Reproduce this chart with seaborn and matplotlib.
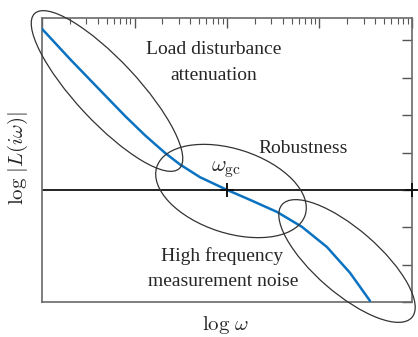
import numpy as np
import matplotlib
matplotlib.use("Agg")
import matplotlib.pyplot as plt
import seaborn as sns
from matplotlib.patches import Ellipse
from matplotlib.transforms import IdentityTransform

# ---- data ----
log_omega = [0.000, 0.303, 0.627, 0.897, 1.114, 1.330, 1.492, 1.708, 2.000,
             2.243, 2.541, 2.811, 3.081, 3.330, 3.546]
log_L     = [4.31, 3.50, 2.67, 1.98, 1.46, 0.99, 0.68, 0.34, 0.00,
             -0.26, -0.59, -0.99, -1.53, -2.22, -2.97]
omega_gc = 100.0
region_labels = ["Load disturbance\nattenuation", "Robustness", "High frequency\nmeasurement noise"]
gc_label = r"$\omega_{\rm gc}$"
xlabel = r"$\log\,\omega$"
ylabel = r"$\log\,|L(i\omega)|$"

omega = 10 ** np.array(log_omega)

sns.set_style("white")
plt.rcParams['font.family'] = ['Liberation Serif', 'DejaVu Serif']
plt.rcParams['mathtext.fontset'] = 'cm'

W, H = 418, 337
fig = plt.figure(figsize=(W / 100, H / 100), dpi=100)
ax = fig.add_axes([42 / W, 1 - 302 / H, 370 / W, 284 / H])

ax.set_xscale('log')
ax.set_xlim(1, 1e4)
ax.set_ylim(-3, 4.6)
ax.set_yticks(range(-3, 5))

ax.axhline(0, color='#222222', lw=1.4, zorder=2)
sns.lineplot(x=omega, y=log_L, ax=ax, color='#0a72c0', lw=1.8, zorder=3)
ax.plot([omega_gc, 1e4], [0, 0], ls='none', marker='+', ms=10, mew=1.4,
        color='#111111', clip_on=False, zorder=4)

for s in ax.spines.values():
    s.set_color('#6a6a6a')
    s.set_linewidth(1.2)
ax.tick_params(which='both', direction='in', top=True, right=True,
               labelbottom=False, labelleft=False, color='#555555')
ax.tick_params(which='major', length=7, width=1.0)
ax.tick_params(which='minor', length=4, width=0.8)
ax.set_xlabel('')
ax.set_ylabel('')

def px(x, y):
    return x / W, 1 - y / H

fs = 14
l0 = region_labels[0].split("\n")
fig.text(*px(214, 50), l0[0], ha='center', va='center', fontsize=fs)
fig.text(*px(214, 76), l0[1], ha='center', va='center', fontsize=fs)
fig.text(*px(303, 148), region_labels[1], ha='center', va='center', fontsize=fs)
l2 = region_labels[2].split("\n")
fig.text(*px(222, 256), l2[0], ha='center', va='center', fontsize=fs)
fig.text(*px(223, 282), l2[1], ha='center', va='center', fontsize=fs)
fig.text(*px(226, 170), gc_label, ha='center', va='center', fontsize=16)
fig.text(*px(226, 325), xlabel, ha='center', va='center', fontsize=15)
fig.text(*px(18, 158), ylabel, ha='center', va='center', fontsize=15, rotation=90)

# ellipses in pixel coordinates (cx, cy, semi-major, semi-minor, angle downwards)
ellipses = [(107, 91, 106, 31, 47), (231, 191, 78, 42, 18), (347, 261, 86, 32, 41)]
for cx, cy, a, b, ang in ellipses:
    e = Ellipse((cx, H - cy), 2 * a, 2 * b, angle=-ang, transform=IdentityTransform(),
                fill=False, edgecolor='#333333', lw=0.9, zorder=5)
    fig.add_artist(e)

fig.savefig("out.png", dpi=100)
